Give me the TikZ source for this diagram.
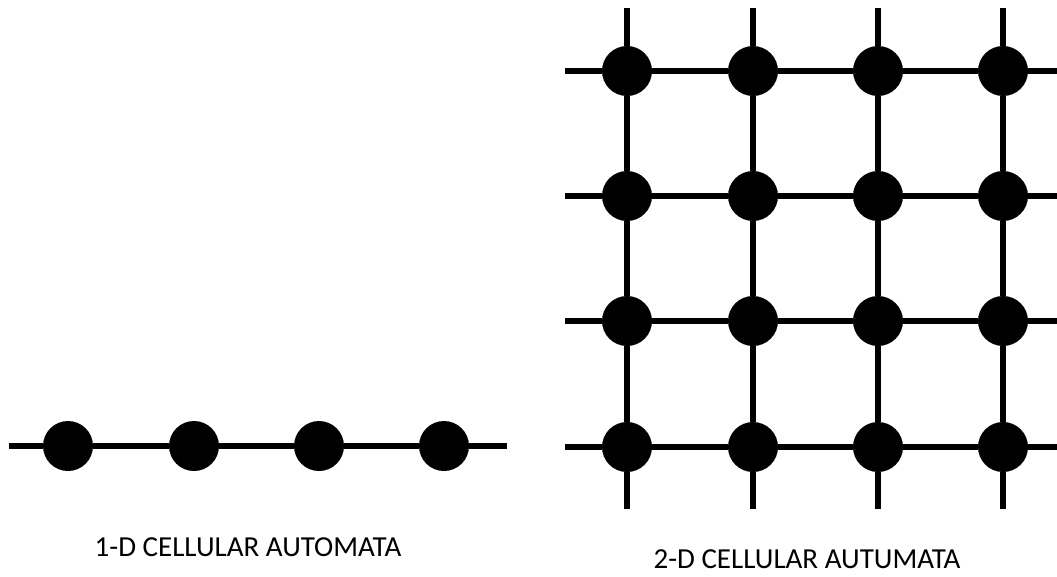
\documentclass[tikz,border=0pt]{standalone}
\usepackage{fontspec}
\setmainfont{Carlito}
\begin{document}
\begin{tikzpicture}[x=1pt,y=-1pt,
  dot/.style={circle,fill=black,minimum size=50pt,inner sep=0pt,outer sep=0pt},
  wire/.style={line width=5.5pt,black},
  lbl/.style={font=\fontsize{29}{34}\selectfont,text=black,inner sep=0pt}]
\useasboundingbox (0,0) rectangle (1057,576);
% 1-D automaton
\coordinate (oL) at (9,446);
\coordinate (oR) at (507,446);
\foreach \i/\x in {1/68,2/194,3/319,4/444}
  \node[dot] (a\i) at (\x,446) {};
\draw[wire] (oL) -- (a1) -- (a2) -- (a3) -- (a4) -- (oR);
% 2-D automaton
\foreach \r/\y in {1/71,2/196,3/321,4/447}{
  \foreach \c/\x in {1/627,2/753,3/878,4/1003}
    \node[dot] (g\r\c) at (\x,\y) {};
  \coordinate (hl\r) at (565,\y);
  \coordinate (hr\r) at (1057,\y);
  \draw[wire] (hl\r) -- (g\r1) -- (g\r2) -- (g\r3) -- (g\r4) -- (hr\r);
}
\foreach \c/\x in {1/627,2/753,3/878,4/1003}{
  \coordinate (vt\c) at (\x,8);
  \coordinate (vb\c) at (\x,509);
  \draw[wire] (vt\c) -- (g1\c) -- (g2\c) -- (g3\c) -- (g4\c) -- (vb\c);
}
% labels
\node[lbl] (t1) at (248,547.5) {1-D CELLULAR AUTOMATA};
\node[lbl] (t2) at (807,559) {2-D CELLULAR AUTUMATA};
\end{tikzpicture}
\end{document}
